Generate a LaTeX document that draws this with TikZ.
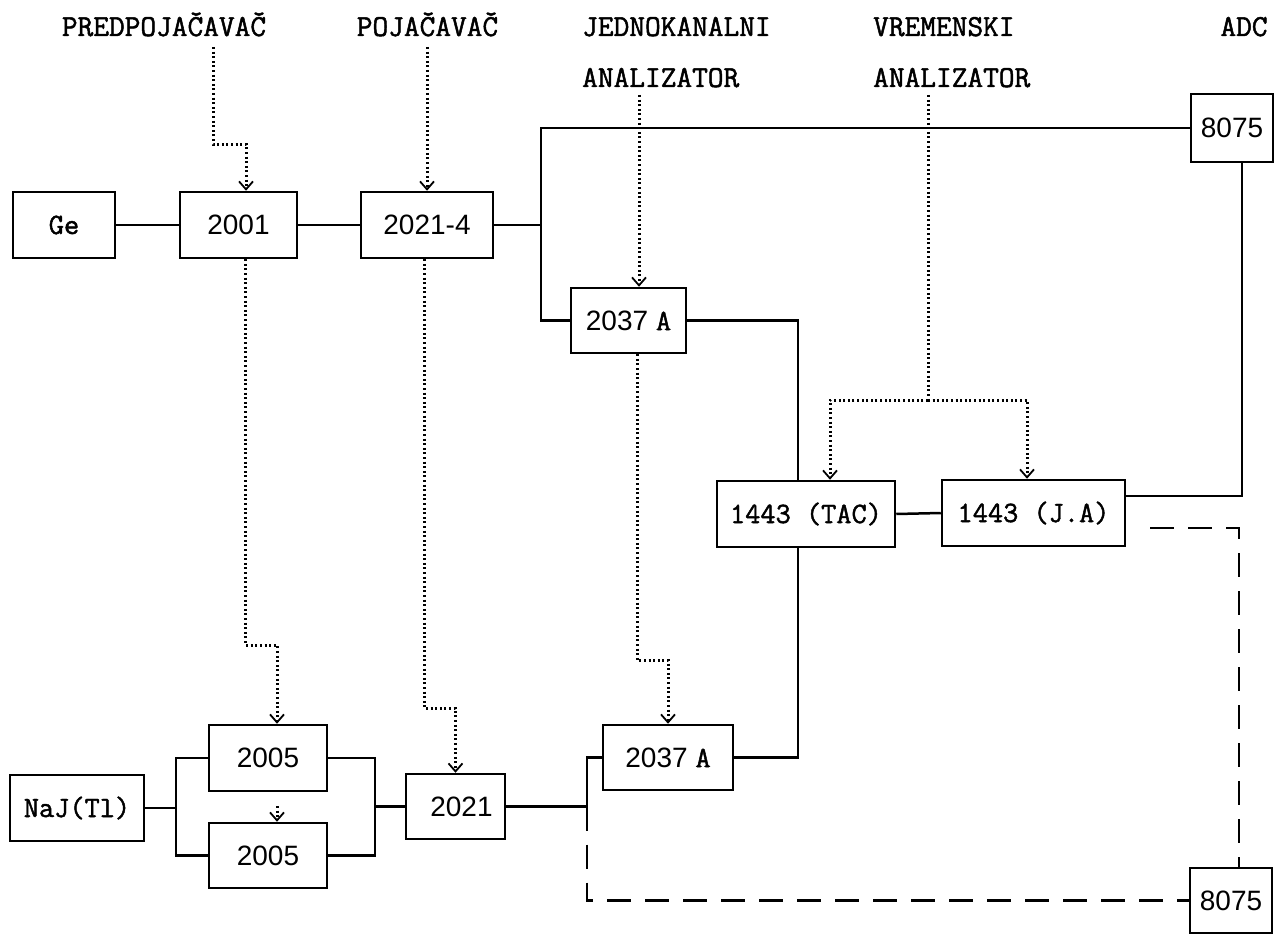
\documentclass[tikz,border=0pt]{standalone}
\usepackage{fontspec}
\newfontfamily\sansfam{Liberation Sans}
\newfontfamily\monofam{Latin Modern Mono}[FakeBold=1.6]
\newcommand{\monof}{\monofam\fontsize{29.5pt}{32pt}\selectfont}
\newcommand{\labf}{\monofam\fontsize{30.5pt}{34pt}\selectfont}
\newcommand{\sansf}{\sansfam\fontsize{28pt}{30pt}\selectfont}
\usetikzlibrary{arrows.meta,calc}
\begin{document}
\begin{tikzpicture}[x=1pt,y=-1pt,
  box/.style={draw,line width=2.5pt,inner sep=0pt,minimum height=66pt},
  wire/.style={line width=2.5pt},
  dotw/.style={line width=3pt,dash pattern=on 2pt off 2.6pt},
  dotarr/.style={dotw,-{Straight Barb[length=8pt,width=14pt,line width=1.8pt]}},
  dashw/.style={line width=2.5pt,dash pattern=on 24pt off 14pt},
  lab/.style={font=\labf,inner sep=0pt}]
\useasboundingbox (0,0) rectangle (1278,934);

% labels
\node[lab,anchor=base] (lpre) at (164,36) {PREDPOJAČAVAČ};
\node[lab,anchor=base] (lpoj) at (427.5,36) {POJAČAVAČ};
\node[lab,anchor=base west] (ljed) at (582,36) {JEDNOKANALNI};
\node[lab,anchor=base west] (ljed2) at (582,87) {ANALIZATOR};
\node[lab,anchor=base west] (lvre) at (873,36) {VREMENSKI};
\node[lab,anchor=base west] (lvre2) at (873,87) {ANALIZATOR};
\node[lab,anchor=base] (ladc) at (1244,36) {ADC};

% boxes
\node[box,minimum width=102pt,font=\monof] (ge) at (64,225) {Ge\hspace{20pt}};
\node[box,minimum width=117pt,font=\sansf] (b2001) at (238.5,225) {2001};
\node[box,minimum width=132pt,font=\sansf] (b2021a) at (427,225) {2021-4\hspace{20pt}};
\node[box,minimum width=82pt,minimum height=68pt,font=\sansf] (adc1) at (1232,128) {8075};
\node[box,minimum width=115pt,minimum height=65pt] (sca1) at (628.5,320.5) {\sansf 2037~\monof A};
\node[box,minimum width=178pt,minimum height=66pt,font=\monof] (tac) at (806,514) {1443 (TAC)};
\node[box,minimum width=183pt,minimum height=66pt,font=\monof] (ja) at (1033.5,513) {1443 (J.A)};
\node[box,minimum width=118pt,font=\sansf] (d2005a) at (268,758) {2005};
\node[box,minimum width=118pt,minimum height=65pt,font=\sansf] (d2005b) at (268,855.5) {2005};
\node[box,minimum width=134pt,font=\monof] (naj) at (77,808) {NaJ(Tl)};
\node[box,minimum width=99pt,minimum height=65pt,font=\sansf] (b2021) at (455.5,806.5) {\hspace{12pt}2021};
\node[box,minimum width=130pt,minimum height=65pt] (sca2) at (668,757.5) {\sansf 2037~\monof A};
\node[box,minimum width=82pt,minimum height=65pt,font=\sansf] (adc2) at (1231,900.5) {8075};

% solid connectors
\coordinate (j1) at (541,225);
\draw[wire] (ge.east) -- (b2001.west);
\draw[wire] (b2001.east) -- (b2021a.west);
\draw[wire] (b2021a.east) -- (j1);
\draw[wire] (adc1.west) -| (j1) |- (sca1.west);
\draw[wire] (sca1.east) -| ($(tac.north)+(-8,0)$);
\draw[wire] ($(tac.south)+(-8,0)$) |- (sca2.east);
\draw[wire] (tac.east) -- (ja.west);
\draw[wire] ($(ja.north east)!0.25!(ja.south east)$) -| ($(adc1.south)+(10,0)$);
\coordinate (j2) at (176,808);
\draw[wire] (naj.east) -- (j2);
\draw[wire] (d2005a.west) -| (j2) |- (d2005b.west);
\coordinate (j3) at (375,806.5);
\draw[wire] (d2005a.east) -| (j3) |- (d2005b.east);
\draw[wire] (j3) -- (b2021.west);
\coordinate (j4) at (587,806.5);
\draw[wire] (b2021.east) -- (j4) |- (sca2.west);

% dashed connectors
\draw[dashw] (j4) |- (adc2.west);
\coordinate (c1) at (1150,528);
\draw[dashw] (c1) -| ($(adc2.north)+(8,0)$);

% dotted arrows from labels
\coordinate (p1) at (213,47);
\draw[dotarr] (p1) |- (246,144) -- ($(b2001.north)+(7.5,0)$);
\coordinate (p2) at (427,47);
\draw[dotarr] (p2) -- (b2021a.north);
\coordinate (p3) at (639,95);
\draw[dotarr] (p3) -- ($(sca1.north)+(10.5,0)$);
\coordinate (p4) at (928,95);
\coordinate (v1) at (928,400);
\draw[dotw] (p4) -- (v1);
\draw[dotarr] (v1) -| ($(tac.north)+(24,0)$);
\draw[dotarr] (v1) -| ($(ja.north)+(-6.5,0)$);

% dotted arrows between the two branches
\draw[dotarr] ($(b2001.south)+(7,0)$) -- (245.5,645) -- (277,645) -- ($(d2005a.north)+(9,0)$);
\coordinate (s1) at (277,806);
\draw[dotarr] (s1) -- ($(d2005b.north)+(9,0)$);
\draw[dotarr] ($(b2021a.south)+(-3,0)$) -- (424,708) -- (455.5,708) -- (b2021.north);
\draw[dotarr] ($(sca1.south)+(8.5,0)$) -- (637,660) -- (668,660) -- (sca2.north);
\end{tikzpicture}
\end{document}
